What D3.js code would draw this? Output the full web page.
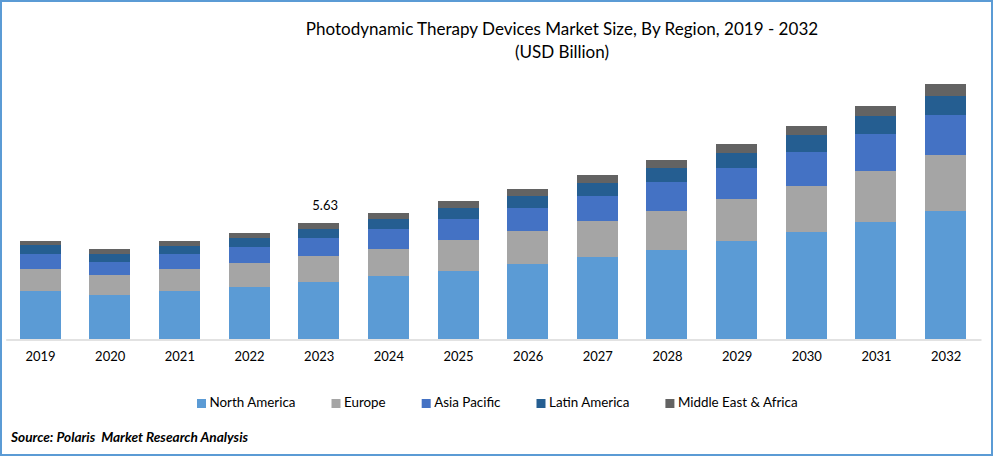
<!DOCTYPE html>
<html>
<head>
<meta charset="utf-8">
<script src="https://d3js.org/d3.v7.min.js"></script>
<style>
    html, body { margin: 0; padding: 0; background: #fff; }
    svg { display: block; font-family: Lato, sans-serif; }
</style>
</head>
<body>
<div id="chart"></div>
<script>
'use strict';

var years = ['2019', '2020', '2021', '2022', '2023', '2024', '2025', '2026', '2027', '2028', '2029', '2030', '2031', '2032'];
var regions = ['North America', 'Europe', 'Asia Pacific', 'Latin America', 'Middle East & Africa'];
var regionColors = ['#5b9bd5', '#a5a5a5', '#4472c4', '#255e91', '#636363'];

// USD billion
var northAmerica = [2.33, 2.14, 2.33, 2.52, 2.77, 3.06, 3.30, 3.64, 3.98, 4.32, 4.76, 5.19, 5.68, 6.21];
var europe = [1.07, 0.97, 1.07, 1.16, 1.26, 1.31, 1.50, 1.60, 1.75, 1.89, 2.04, 2.23, 2.48, 2.72];
var asiaPacific = [0.73, 0.63, 0.73, 0.78, 0.87, 0.97, 1.02, 1.12, 1.21, 1.41, 1.50, 1.65, 1.80, 1.94];
var latinAmerica = [0.44, 0.39, 0.39, 0.44, 0.44, 0.49, 0.53, 0.58, 0.63, 0.68, 0.73, 0.83, 0.87, 0.92];
var middleEast = [0.19, 0.24, 0.24, 0.24, 0.29, 0.29, 0.34, 0.34, 0.39, 0.39, 0.44, 0.44, 0.49, 0.58];

var labelYear = '2023';
var labelText = '5.63';
var titleLines = ['Photodynamic Therapy Devices Market Size, By Region, 2019 - 2032', '(USD Billion)'];
var sourceText = 'Source: Polaris  Market Research Analysis';

var width = 993, height = 456,
    baseY = 339;

var rows = years.map(function (year, i) {
    return {
        year: year,
        'North America': northAmerica[i],
        'Europe': europe[i],
        'Asia Pacific': asiaPacific[i],
        'Latin America': latinAmerica[i],
        'Middle East & Africa': middleEast[i]
    };
});

var svg = d3.select('#chart').append('svg')
    .attr('width', width)
    .attr('height', height);

// outer frame
svg.append('rect')
    .attr('x', 1).attr('y', 1)
    .attr('width', width - 2).attr('height', height - 2)
    .attr('fill', '#fff')
    .attr('stroke', '#5b9bd5')
    .attr('stroke-width', 2);

var x = d3.scaleBand()
    .domain(years)
    .range([5.68, 980.99])
    .paddingInner(0.4115)
    .paddingOuter(0.2058);

// 5.63 at the 2023 bar is 116px tall
var y = d3.scaleLinear()
    .domain([0, 5.63])
    .range([baseY, baseY - 116]);

var color = d3.scaleOrdinal().domain(regions).range(regionColors);

var series = d3.stack().keys(regions)(rows);

svg.append('g')
    .selectAll('g')
    .data(series)
    .join('g')
    .attr('fill', function (s) { return color(s.key); })
    .selectAll('rect')
    .data(function (s) { return s; })
    .join('rect')
    .attr('x', function (d) { return Math.floor(x(d.data.year)); })
    .attr('y', function (d) { return Math.round(y(d[1])); })
    .attr('width', Math.round(x.bandwidth()))
    .attr('height', function (d) { return Math.round(y(d[0])) - Math.round(y(d[1])); })
    .attr('shape-rendering', 'crispEdges');

var xAxis = svg.append('g')
    .attr('transform', 'translate(0,' + (baseY + 0.5) + ')')
    .call(d3.axisBottom(x).tickSize(0).tickPadding(12));

xAxis.select('.domain')
    .attr('stroke', '#d9d9d9')
    .attr('stroke-width', 1.5);

xAxis.selectAll('text')
    .attr('fill', '#000')
    .style('font-family', 'Lato, sans-serif')
    .style('font-size', '13px');

svg.append('text')
    .attr('x', x(labelYear) + x.bandwidth() / 2 + 6)
    .attr('y', y(5.63) - 13)
    .attr('text-anchor', 'middle')
    .attr('font-size', 13)
    .attr('fill', '#000')
    .text(labelText);

svg.selectAll('.title')
    .data(titleLines)
    .join('text')
    .attr('class', 'title')
    .attr('x', 562)
    .attr('y', function (d, i) { return 35 + i * 23; })
    .attr('text-anchor', 'middle')
    .attr('font-size', 17.05)
    .attr('fill', '#000')
    .text(function (d) { return d; });

// legend: lay items out from measured text widths
var legend = svg.append('g').attr('class', 'legend');
var items = legend.selectAll('g')
    .data(regions)
    .join('g');

items.append('rect')
    .attr('y', -8)
    .attr('width', 9)
    .attr('height', 9)
    .attr('fill', function (d) { return color(d); });

items.append('text')
    .attr('x', 12.5)
    .attr('font-size', 13.4)
    .attr('fill', '#000')
    .text(function (d) { return d; });

var legendX = 197;
items.attr('transform', function () {
    var at = legendX,
        w = d3.select(this).select('text').node().getComputedTextLength();
    legendX += 12.5 + w + 36;
    return 'translate(' + at + ',407)';
});

svg.append('text')
    .attr('x', 11)
    .attr('y', 442)
    .attr('font-size', 13.65)
    .attr('font-weight', 700)
    .attr('font-style', 'italic')
    .attr('fill', '#000')
    .style('white-space', 'pre')
    .text(sourceText);
</script>
</body>
</html>
